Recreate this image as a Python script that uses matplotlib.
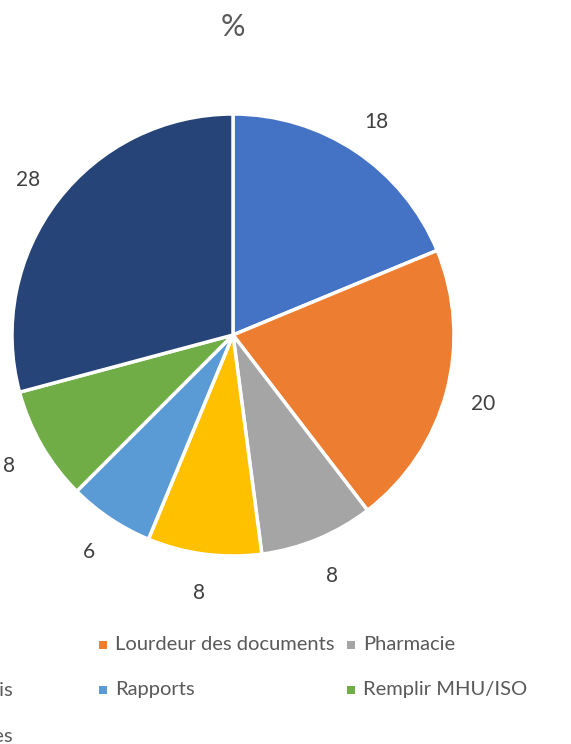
import matplotlib
matplotlib.use("Agg")
import matplotlib.pyplot as plt
from matplotlib.patches import Rectangle

categories = ["Temps", "Lourdeur des documents", "Pharmacie", "Demande d'avis",
              "Rapports", "Remplir MHU/ISO", "Tâches diverses"]
values = [18, 20, 8, 8, 6, 8, 28]
colors = ["#4472C4", "#ED7D31", "#A5A5A5", "#FFC000", "#5B9BD5", "#70AD47", "#264478"]
title = "%"

W, H = 571, 744
plt.rcParams['font.family'] = ['Lato', 'DejaVu Sans']
fig = plt.figure(figsize=(W / 100, H / 100), dpi=100)

cx, cy, R = 233, 335, 221
ax = fig.add_axes([(cx - R) / W, (H - cy - R) / H, 2 * R / W, 2 * R / H])
ax.pie(values, colors=colors, startangle=90, counterclock=False, radius=1,
       wedgeprops=dict(edgecolor="white", linewidth=2.5),
       labels=[str(v) for v in values], labeldistance=1.17,
       textprops=dict(color="#404040", fontsize=15, ha="center", va="center_baseline"))
ax.set_xlim(-1, 1)
ax.set_ylim(-1, 1)
ax.set_aspect("equal")
ax.axis("off")

fig.text(cx / W, 1 - 27 / H, title, ha="center", va="center", fontsize=22, color="#595959")

# legend (3 columns, row-major), partly cropped on the left
col_x = [-143, 99, 347]
row_y = [645, 690, 736]
for i, (name, c) in enumerate(zip(categories, colors)):
    r, k = divmod(i, 3)
    x, y = col_x[k], row_y[r]
    fig.add_artist(Rectangle((x / W, 1 - (y + 4) / H), 8 / W, 8 / H,
                             transform=fig.transFigure, facecolor=c, edgecolor="none"))
    fig.text((x + 16) / W, 1 - y / H, name, ha="left", va="center",
             fontsize=14.5, color="#595959")

fig.savefig("out.png", dpi=100)
